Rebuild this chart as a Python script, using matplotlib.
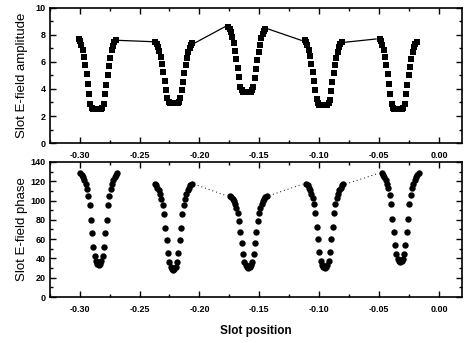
import matplotlib
matplotlib.use("Agg")
import matplotlib.pyplot as plt
from matplotlib.ticker import MultipleLocator, FuncFormatter
import numpy as np

# x offsets of sample points relative to each dip centre (shared by both panels)
dx = [-0.0154, -0.0143, -0.0132, -0.0121, -0.0110, -0.0099, -0.0088, -0.0077,
      -0.0066, -0.0055, -0.0044, -0.0033, -0.0022, -0.0011, 0.0, 0.0011, 0.0022,
      0.0033, 0.0044, 0.0055, 0.0066, 0.0077, 0.0088, 0.0099, 0.0110, 0.0121,
      0.0132, 0.0143, 0.0154]

# dip centres (slot positions)
amp_centres = [-0.2854, -0.2213, -0.1604, -0.0967, -0.0342]
phase_centres = [-0.2840, -0.2219, -0.1592, -0.0955, -0.0325]

# amplitude values for each dip
amp_dip1 = [7.7, 7.55, 7.28, 6.92, 6.4, 5.78, 5.1, 4.37, 3.64, 2.92,
            2.6, 2.5, 2.5, 2.5, 2.5, 2.5, 2.5, 2.5, 2.6,
            2.9, 3.6, 4.3, 5.05, 5.7, 6.3, 6.85, 7.2, 7.45, 7.6]
amp_dip2 = [7.5, 7.36, 7.14, 6.82, 6.36, 5.82, 5.23, 4.59, 3.95, 3.31,
            3.05, 2.95, 2.95, 2.95, 2.95, 2.95, 2.95, 2.95, 3.05,
            3.3, 3.93, 4.55, 5.17, 5.75, 6.28, 6.73, 7.04, 7.27, 7.4]
amp_dip3 = [8.6, 8.46, 8.22, 7.88, 7.4, 6.82, 6.2, 5.53, 4.86, 4.18,
            3.9, 3.8, 3.8, 3.8, 3.8, 3.8, 3.8, 3.8, 3.9,
            4.17, 4.8, 5.47, 6.13, 6.73, 7.29, 7.75, 8.08, 8.31, 8.45]
amp_dip4 = [7.6, 7.46, 7.22, 6.89, 6.41, 5.84, 5.23, 4.56, 3.9, 3.23,
            2.95, 2.85, 2.85, 2.85, 2.85, 2.85, 2.85, 2.85, 2.95,
            3.22, 3.86, 4.5, 5.15, 5.75, 6.3, 6.76, 7.08, 7.31, 7.45]
amp_dip5 = [7.7, 7.55, 7.28, 6.92, 6.4, 5.78, 5.1, 4.37, 3.64, 2.92,
            2.6, 2.5, 2.5, 2.5, 2.5, 2.5, 2.5, 2.5, 2.6,
            2.9, 3.6, 4.3, 5.0, 5.65, 6.25, 6.75, 7.1, 7.35, 7.5]

# phase values for each dip
ph_dip1 = [128, 126.5, 124, 121, 117, 112, 105, 95, 80, 66, 52, 42, 37, 34.5, 33.5,
           34.5, 37, 42, 52, 66, 80, 95, 105, 112, 117, 121, 124, 126.5, 128]
ph_dip2 = [117, 115.6, 113.3, 110.4, 106.7, 102, 95.4, 85.9, 71.8, 58.6, 45.4, 36, 31.3, 29, 28,
           29, 31.3, 36, 45.4, 58.6, 71.8, 85.9, 95.4, 102, 106.7, 110.4, 113.3, 115.6, 117]
ph_dip3 = [105, 103.8, 101.9, 99.5, 96.3, 92.3, 86.8, 78.8, 66.9, 55.8, 44.7, 36.8, 32.8, 30.8, 30,
           30.8, 32.8, 36.8, 44.7, 55.8, 66.9, 78.8, 86.8, 92.3, 96.3, 99.5, 101.9, 103.8, 105]
ph_dip4 = [117, 115.6, 113.3, 110.6, 106.9, 102.3, 95.9, 86.6, 72.8, 59.9, 47.1, 37.8, 33.2, 31, 30,
           31, 33.2, 37.8, 47.1, 59.9, 72.8, 86.6, 95.9, 102.3, 106.9, 110.6, 113.3, 115.6, 117]
ph_dip5 = [128, 126.5, 124.1, 121.2, 117.3, 112.5, 105.6, 95.9, 81.3, 67.6, 54, 44.3, 39.4, 37, 36,
           37, 39.4, 44.3, 54, 67.6, 81.3, 95.9, 105.6, 112.5, 117.3, 121.2, 124.1, 126.5, 128]

amp_dips = [amp_dip1, amp_dip2, amp_dip3, amp_dip4, amp_dip5]
ph_dips = [ph_dip1, ph_dip2, ph_dip3, ph_dip4, ph_dip5]

plt.rcParams['font.family'] = ['Liberation Sans', 'DejaVu Sans']

fig = plt.figure(figsize=(4.68, 3.43), dpi=100)
ax1 = fig.add_axes([0.106, 0.583, 0.881, 0.394])
ax2 = fig.add_axes([0.106, 0.134, 0.881, 0.394])

dxa = np.array(dx)

# amplitude panel
for k, (c, v) in enumerate(zip(amp_centres, amp_dips)):
    ax1.plot(c + dxa, v, linestyle='none', marker='s', ms=3.9, color='black',
             markeredgewidth=0)
    if k < len(amp_dips) - 1:
        nxt = amp_dips[k + 1]
        ax1.plot([c + dxa[-1] + 0.002, amp_centres[k + 1] + dxa[0] - 0.003],
                 [v[-1], nxt[0]], color='black', lw=0.9)

# phase panel
for k, (c, v) in enumerate(zip(phase_centres, ph_dips)):
    ax2.plot(c + dxa, v, linestyle='none', marker='o', ms=4.6, color='black',
             markeredgewidth=0)
    if 1 <= k < len(ph_dips) - 1:
        nxt = ph_dips[k + 1]
        ax2.plot([c + dxa[-1] + 0.002, phase_centres[k + 1] + dxa[0] - 0.003],
                 [v[-1], nxt[0]], color='black', lw=0.7, linestyle=(0, (1, 3)))

fmt = FuncFormatter(lambda x, p: "0.00" if abs(x) < 1e-9 else f"{x:.2f}")
for ax in (ax1, ax2):
    ax.set_xlim(-0.325, 0.019)
    ax.xaxis.set_major_locator(MultipleLocator(0.05))
    ax.xaxis.set_minor_locator(MultipleLocator(0.025))
    ax.xaxis.set_major_formatter(fmt)
    ax.tick_params(which='both', direction='in', top=True, right=True,
                   width=1.0, labelsize=6.5)
    ax.tick_params(which='major', length=4)
    ax.tick_params(which='minor', length=2.5)
    ax.tick_params(axis='x', pad=6)
    ax.tick_params(axis='y', pad=3)
    for s in ax.spines.values():
        s.set_linewidth(1.2)

ax1.set_ylim(0, 10)
ax1.yaxis.set_major_locator(MultipleLocator(2))
ax1.yaxis.set_minor_locator(MultipleLocator(1))
ax2.set_ylim(0, 140)
ax2.yaxis.set_major_locator(MultipleLocator(20))
ax2.yaxis.set_minor_locator(MultipleLocator(10))

for ax in (ax1, ax2):
    for lab in ax.get_xticklabels() + ax.get_yticklabels():
        lab.set_fontweight('bold')

ax1.set_ylabel("Slot E-field amplitude", fontsize=9.5, labelpad=5)
ax2.set_ylabel("Slot E-field phase", fontsize=9.5, labelpad=2)
ax2.set_xlabel("Slot position", fontsize=8.5, fontweight='bold', labelpad=8)

fig.savefig("out.png", dpi=100)
